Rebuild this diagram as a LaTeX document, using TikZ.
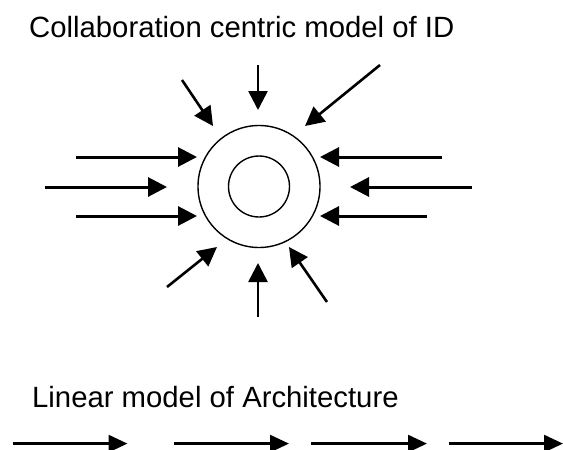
\documentclass[tikz,border=0pt]{standalone}
\usepackage{fontspec}
\setmainfont{Liberation Sans}
\usetikzlibrary{arrows.meta, positioning}

\tikzset{
  inarrow/.style={line width=2.6pt, -{Triangle[length=19pt, width=19pt]}},
  linarrow/.style={line width=3pt, -{Triangle[length=19pt, width=17pt]}},
  ring/.style={circle, draw, line width=1.4pt, inner sep=0pt},
  heading/.style={inner sep=0pt, anchor=base west, font=\fontsize{29.3}{35}\selectfont}
}

\begin{document}
\begin{tikzpicture}[x=1pt, y=-1pt]
\useasboundingbox (0,0) rectangle (563,450);

% Title
\node[heading] (collab) at (29,37.7) {Collaboration centric model of ID};

% Rings
\node[ring, minimum size=122pt] (outer) at (259,186.5) {};
\node[ring, minimum size=61pt] (inner) at (outer.center) {};

% Incoming arrows
\foreach \sx/\sy/\ex/\ey in {258/65/258/110, 182/80/213/126, 380/65/305/126,
    167/287/217/247, 258/317/258/263, 327/302/289/247}
  \draw[inarrow] (\sx,\sy) -- (\ex,\ey);

\foreach \sx/\ex/\yy in {76/197/157, 45/167/187, 76/197/216,
    442/320/157, 472/350/187, 427/320/216}
  \draw[inarrow, line width=3pt] (\sx,\yy) -- (\ex,\yy);

% Linear model
\node[heading] (linear) at (32,407.7) {Linear model of Architecture};

\foreach \sx/\ex in {12.6/127.5, 174/289, 311/427, 449/563}
  \draw[linarrow] (\sx,443.6) -- (\ex,443.6);

\end{tikzpicture}
\end{document}
